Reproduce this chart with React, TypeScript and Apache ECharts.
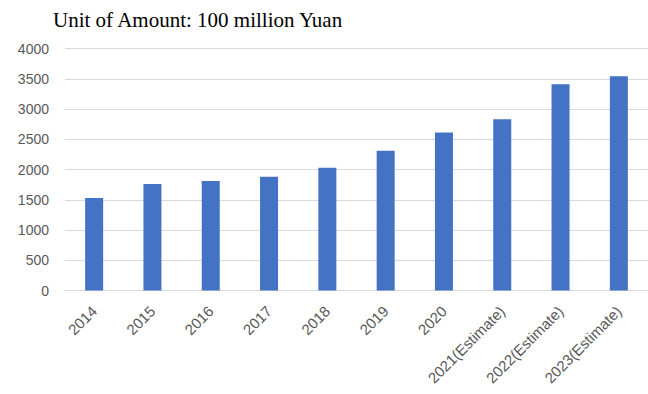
import React, { useEffect, useRef } from "react";
import * as echarts from "echarts";

const categories = [
  "2014",
  "2015",
  "2016",
  "2017",
  "2018",
  "2019",
  "2020",
  "2021(Estimate)",
  "2022(Estimate)",
  "2023(Estimate)",
];
const amounts = [1530, 1760, 1810, 1880, 2030, 2310, 2610, 2830, 3410, 3540];
const yTicks = { min: 0, max: 4000, interval: 500 };
const unitText = "Unit of Amount: 100 million Yuan";

export default function App() {
  const ref = useRef<HTMLDivElement>(null);
  useEffect(() => {
    document.body.style.margin = "0";
    const chart = echarts.init(ref.current!, null, { renderer: "svg" });
    chart.setOption({
      animation: false,
      backgroundColor: "#ffffff",
      graphic: [
        {
          type: "text",
          x: 53,
          y: 19.5,
          style: {
            text: unitText,
            fontFamily: "Liberation Serif",
            fontSize: 21,
            fill: "#000000",
            verticalAlign: "middle",
            align: "left",
          },
        },
      ],
      grid: { left: 65, right: -3, top: 48.5, bottom: 103.5, containLabel: false },
      xAxis: {
        type: "category",
        data: categories,
        axisLine: { show: true, lineStyle: { color: "#d9d9d9", width: 1 } },
        axisTick: { show: false },
        axisLabel: {
          rotate: 45,
          interval: 0,
          margin: 18,
          fontFamily: "Liberation Sans",
          fontSize: 15,
          color: "#595959",
        },
      },
      yAxis: {
        type: "value",
        min: yTicks.min,
        max: yTicks.max,
        interval: yTicks.interval,
        axisLine: { show: false },
        axisTick: { show: false },
        splitLine: { lineStyle: { color: "#d9d9d9", width: 1 } },
        axisLabel: {
          margin: 16,
          fontFamily: "Liberation Sans",
          fontSize: 14,
          color: "#595959",
          formatter: (v: number) => String(v),
        },
      },
      series: [
        {
          type: "bar",
          data: amounts,
          barWidth: 18,
          itemStyle: { color: "#4472C4" },
        },
      ],
    });
    return () => chart.dispose();
  }, []);
  return (
    <div
      ref={ref}
      style={{ position: "fixed", left: 0, top: 0, width: 648, height: 394 }}
    />
  );
}
